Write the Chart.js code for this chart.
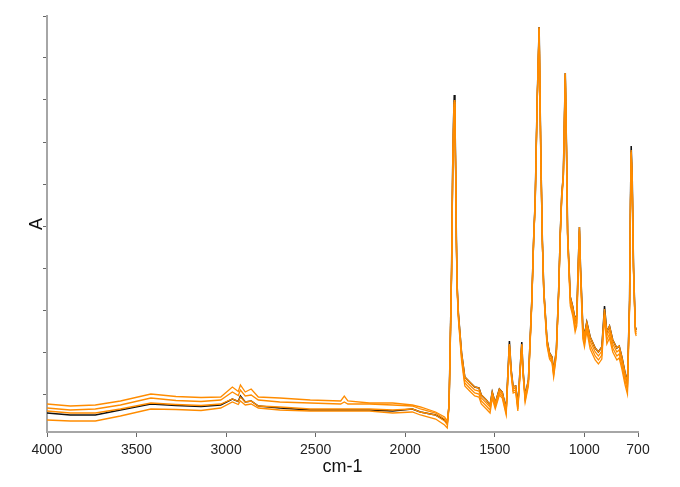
<!DOCTYPE html>
<html>
<head>
<meta charset="utf-8">
<script src="https://cdn.jsdelivr.net/npm/chart.js@4"></script>
<style>
  html, body { margin: 0; padding: 0; background: #fff; }
  #wrap { width: 680px; height: 487px; }
</style>
</head>
<body>
<div id="wrap"><canvas id="spectrum"></canvas></div>
<script>
// Wavenumbers (cm-1) shared by all spectra
const WAVENUMBERS = [4000, 3870, 3730, 3590, 3420, 3280, 3140, 3030, 2965, 2932, 2920, 2893, 2860, 2820, 2700, 2530, 2360, 2340, 2320, 2200, 2070, 1960, 1915, 1830, 1780, 1765, 1755, 1748, 1741, 1735, 1730, 1726, 1722, 1718, 1714, 1710, 1703, 1685, 1667, 1640, 1612, 1588, 1575, 1547, 1526, 1514, 1497, 1474, 1458, 1436, 1418, 1408, 1397, 1383, 1371, 1349, 1342, 1330, 1312, 1293, 1283, 1274, 1263, 1252, 1243, 1234, 1226, 1208, 1194, 1180, 1171, 1156, 1143, 1134, 1126, 1117, 1111, 1106, 1099, 1093, 1078, 1064, 1051, 1042, 1033, 1027, 1021, 1008, 999, 986, 967, 939, 921, 902, 894, 887, 874, 859, 841, 818, 805, 790, 772, 759, 747, 742, 738, 732, 725, 715, 710];

// Absorbance (arbitrary units)
const REF_SPECTRUM = [0.038, 0.034, 0.034, 0.044, 0.056, 0.053, 0.051, 0.054, 0.066, 0.061, 0.072, 0.060, 0.062, 0.052, 0.048, 0.044, 0.044, 0.044, 0.044, 0.044, 0.042, 0.046, 0.040, 0.034, 0.024, 0.018, 0.054, 0.184, 0.324, 0.524, 0.624, 0.674, 0.634, 0.524, 0.384, 0.294, 0.238, 0.158, 0.110, 0.100, 0.090, 0.088, 0.074, 0.064, 0.054, 0.080, 0.058, 0.086, 0.080, 0.046, 0.182, 0.124, 0.090, 0.092, 0.054, 0.180, 0.124, 0.072, 0.104, 0.264, 0.384, 0.464, 0.664, 0.810, 0.564, 0.384, 0.284, 0.184, 0.158, 0.150, 0.122, 0.164, 0.284, 0.398, 0.474, 0.514, 0.624, 0.718, 0.564, 0.398, 0.270, 0.250, 0.224, 0.234, 0.344, 0.410, 0.330, 0.210, 0.194, 0.220, 0.190, 0.168, 0.160, 0.170, 0.214, 0.252, 0.200, 0.212, 0.184, 0.168, 0.172, 0.150, 0.118, 0.100, 0.264, 0.464, 0.572, 0.504, 0.330, 0.210, 0.204];

const SAMPLE_1 = [0.056, 0.052, 0.054, 0.062, 0.076, 0.071, 0.069, 0.070, 0.090, 0.081, 0.094, 0.080, 0.086, 0.070, 0.068, 0.064, 0.062, 0.072, 0.062, 0.058, 0.058, 0.054, 0.050, 0.040, 0.030, 0.022, 0.054, 0.184, 0.324, 0.520, 0.616, 0.664, 0.630, 0.524, 0.384, 0.294, 0.238, 0.158, 0.110, 0.100, 0.090, 0.088, 0.074, 0.064, 0.054, 0.080, 0.058, 0.086, 0.080, 0.046, 0.176, 0.122, 0.090, 0.092, 0.054, 0.176, 0.122, 0.072, 0.104, 0.264, 0.384, 0.464, 0.664, 0.810, 0.564, 0.384, 0.284, 0.184, 0.158, 0.150, 0.122, 0.164, 0.284, 0.398, 0.474, 0.514, 0.624, 0.718, 0.564, 0.398, 0.270, 0.250, 0.224, 0.234, 0.344, 0.410, 0.330, 0.210, 0.194, 0.220, 0.190, 0.168, 0.160, 0.170, 0.210, 0.246, 0.200, 0.212, 0.184, 0.168, 0.172, 0.150, 0.118, 0.100, 0.264, 0.460, 0.564, 0.500, 0.330, 0.210, 0.204];

const SAMPLE_2 = [0.048, 0.044, 0.046, 0.054, 0.068, 0.063, 0.061, 0.064, 0.080, 0.073, 0.084, 0.072, 0.074, 0.064, 0.060, 0.058, 0.056, 0.060, 0.056, 0.056, 0.054, 0.052, 0.046, 0.038, 0.026, 0.018, 0.054, 0.184, 0.322, 0.518, 0.612, 0.660, 0.624, 0.520, 0.382, 0.290, 0.234, 0.154, 0.104, 0.094, 0.084, 0.082, 0.068, 0.058, 0.050, 0.076, 0.054, 0.082, 0.076, 0.042, 0.174, 0.120, 0.086, 0.088, 0.050, 0.174, 0.120, 0.068, 0.100, 0.262, 0.382, 0.462, 0.662, 0.808, 0.562, 0.382, 0.282, 0.180, 0.154, 0.146, 0.118, 0.160, 0.282, 0.396, 0.472, 0.512, 0.622, 0.716, 0.562, 0.394, 0.264, 0.244, 0.216, 0.226, 0.338, 0.406, 0.324, 0.202, 0.186, 0.214, 0.182, 0.160, 0.152, 0.162, 0.204, 0.240, 0.192, 0.204, 0.176, 0.160, 0.164, 0.142, 0.110, 0.092, 0.258, 0.456, 0.560, 0.496, 0.326, 0.206, 0.200];

const SAMPLE_3 = [0.042, 0.038, 0.038, 0.046, 0.058, 0.055, 0.053, 0.056, 0.066, 0.061, 0.070, 0.060, 0.062, 0.052, 0.050, 0.046, 0.046, 0.046, 0.046, 0.046, 0.044, 0.046, 0.040, 0.034, 0.022, 0.014, 0.052, 0.180, 0.318, 0.512, 0.604, 0.650, 0.620, 0.516, 0.378, 0.286, 0.230, 0.148, 0.098, 0.088, 0.078, 0.076, 0.062, 0.052, 0.044, 0.072, 0.050, 0.078, 0.072, 0.038, 0.172, 0.116, 0.082, 0.084, 0.046, 0.172, 0.116, 0.064, 0.096, 0.258, 0.378, 0.460, 0.660, 0.806, 0.558, 0.378, 0.278, 0.176, 0.150, 0.142, 0.114, 0.156, 0.278, 0.392, 0.468, 0.508, 0.618, 0.714, 0.558, 0.390, 0.258, 0.238, 0.208, 0.218, 0.332, 0.402, 0.318, 0.194, 0.178, 0.208, 0.174, 0.152, 0.144, 0.154, 0.198, 0.234, 0.184, 0.196, 0.168, 0.152, 0.156, 0.134, 0.102, 0.084, 0.252, 0.452, 0.558, 0.492, 0.322, 0.202, 0.196];

const SAMPLE_4 = [0.024, 0.022, 0.022, 0.032, 0.046, 0.045, 0.043, 0.048, 0.060, 0.055, 0.062, 0.054, 0.056, 0.048, 0.044, 0.042, 0.042, 0.042, 0.042, 0.042, 0.038, 0.040, 0.034, 0.026, 0.014, 0.008, 0.050, 0.178, 0.316, 0.510, 0.600, 0.656, 0.616, 0.512, 0.374, 0.282, 0.226, 0.142, 0.092, 0.082, 0.072, 0.070, 0.056, 0.046, 0.038, 0.068, 0.046, 0.074, 0.068, 0.034, 0.170, 0.114, 0.078, 0.080, 0.042, 0.170, 0.114, 0.060, 0.092, 0.254, 0.376, 0.456, 0.656, 0.804, 0.556, 0.376, 0.274, 0.172, 0.146, 0.138, 0.110, 0.152, 0.274, 0.388, 0.464, 0.504, 0.614, 0.712, 0.554, 0.386, 0.252, 0.232, 0.200, 0.212, 0.326, 0.396, 0.312, 0.186, 0.170, 0.202, 0.166, 0.144, 0.136, 0.146, 0.192, 0.228, 0.176, 0.188, 0.160, 0.144, 0.148, 0.126, 0.094, 0.076, 0.246, 0.448, 0.556, 0.488, 0.318, 0.198, 0.192];

// Axis ticks (y ticks carry no labels)
const X_TICKS = [4000, 3500, 3000, 2500, 2000, 1500, 1000, 700];
const Y_TICKS = [0.076, 0.16, 0.244, 0.328, 0.412, 0.496, 0.58, 0.664, 0.748, 0.832];

const ORANGE = "#ff8c00";
const AXIS_GREY = "#a6a6a6";
const FONT = "'Liberation Sans', Arial, sans-serif";

function toPoints(values) {
    return WAVENUMBERS.map((wn, i) => ({ x: wn, y: values[i] }));
}

function orangeSet(values) {
    return {
        data: toPoints(values),
        borderColor: ORANGE,
        borderWidth: 1.3,
        pointRadius: 0,
        tension: 0,
        fill: false
    };
}

new Chart(document.getElementById("spectrum"), {
    type: "line",
    data: {
        datasets: [
            orangeSet(SAMPLE_1),
            orangeSet(SAMPLE_2),
            orangeSet(SAMPLE_3),
            orangeSet(SAMPLE_4),
            {
                data: toPoints(REF_SPECTRUM),
                borderColor: "#111",
                borderWidth: 1.5,
                pointRadius: 0,
                tension: 0,
                fill: false
            }
        ]
    },
    options: {
        responsive: true,
        maintainAspectRatio: false,
        animation: false,
        layout: { padding: { left: 0, right: 42, top: 16, bottom: 0 } },
        plugins: { legend: { display: false }, tooltip: { enabled: false } },
        scales: {
            x: {
                type: "linear",
                reverse: true,
                min: 700,
                max: 4000,
                afterBuildTicks: s => { s.ticks = X_TICKS.map(v => ({ value: v })); },
                afterFit: s => { s.height = 55; },
                border: { color: AXIS_GREY, width: 2 },
                grid: { drawOnChartArea: false, color: "#666", tickLength: 5 },
                ticks: {
                    autoSkip: false,
                    maxRotation: 0,
                    padding: 5,
                    color: "#222",
                    callback: v => String(v),
                    font: { family: FONT, size: 14 }
                },
                title: {
                    display: true,
                    text: "cm-1",
                    color: "#111",
                    padding: { top: 0, bottom: 9 },
                    font: { family: FONT, size: 18 }
                }
            },
            y: {
                min: 0,
                max: 0.832,
                afterBuildTicks: s => { s.ticks = Y_TICKS.map(v => ({ value: v })); },
                afterFit: s => { s.width = 47; },
                border: { color: AXIS_GREY, width: 2 },
                grid: { drawOnChartArea: false, color: "#666", tickLength: 4 },
                ticks: { display: false },
                title: {
                    display: true,
                    text: "A",
                    color: "#111",
                    padding: { top: 26, bottom: 0 },
                    font: { family: FONT, size: 18 }
                }
            }
        }
    }
});
</script>
</body>
</html>
